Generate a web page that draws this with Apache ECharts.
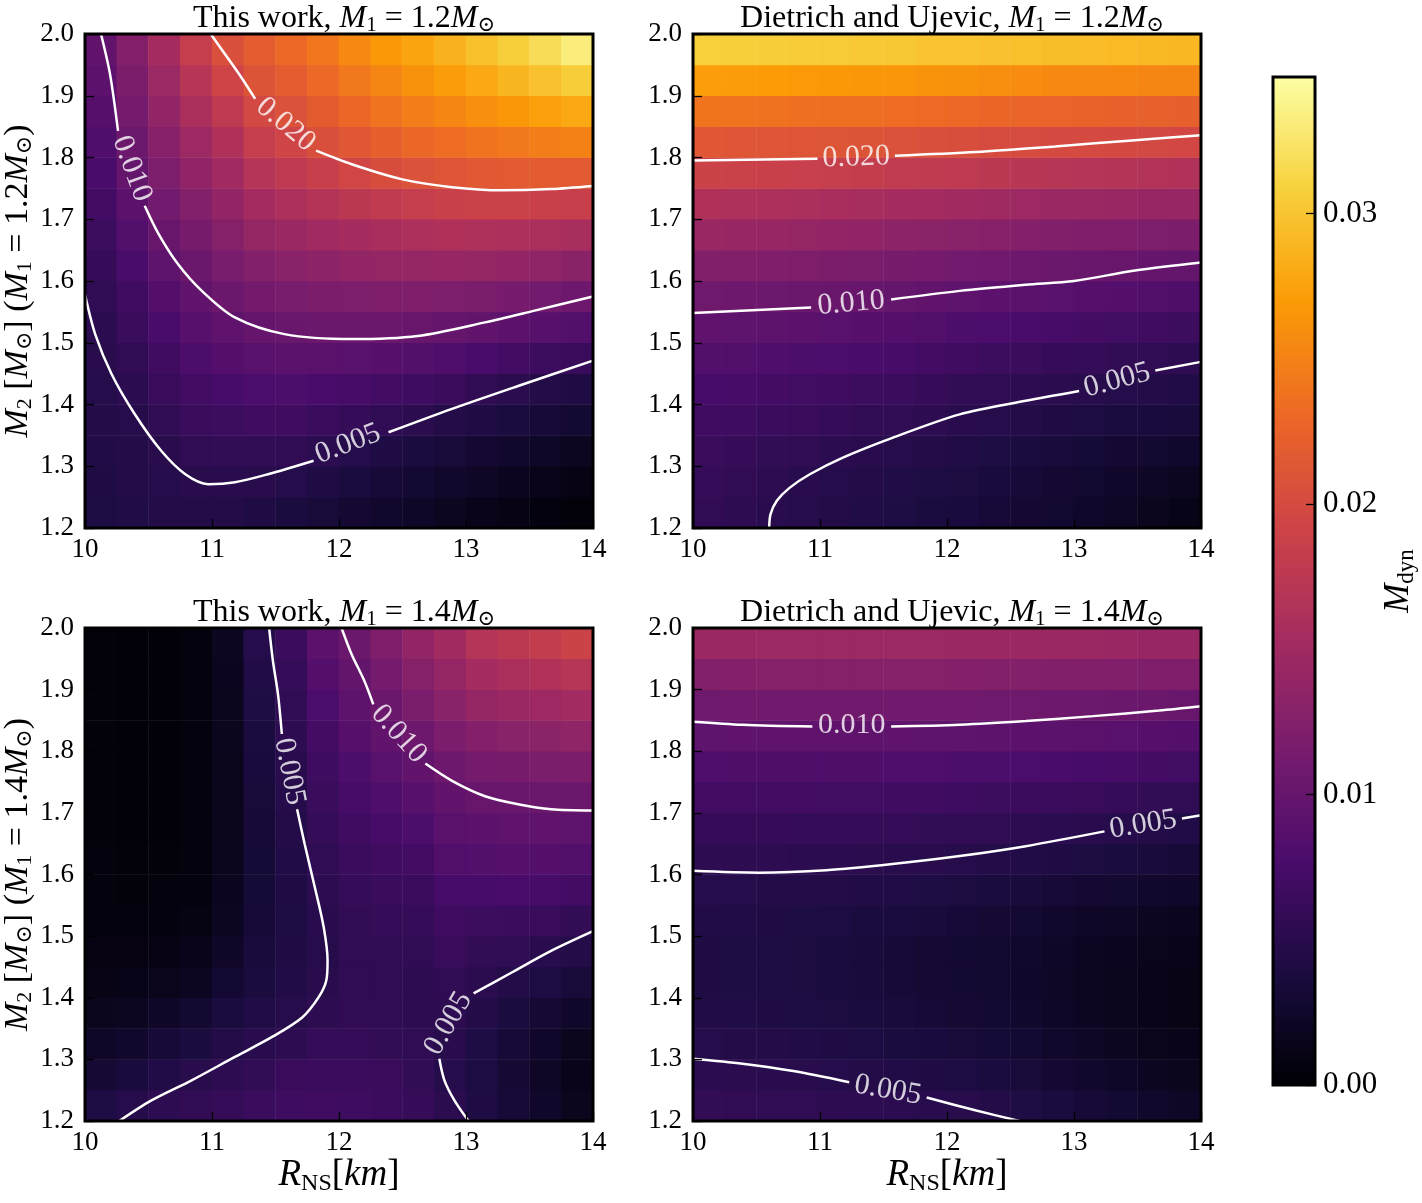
<!DOCTYPE html>
<html>
<head>
<meta charset="utf-8">
<title>Dynamical ejecta mass</title>
<script src="https://cdn.jsdelivr.net/npm/echarts@6/dist/echarts.min.js"></script>
<style>
  html, body { margin: 0; padding: 0; background: #fff; }
  #chart { width: 1422px; height: 1203px; }
</style>
</head>
<body>
<div id="chart"></div>
<script>
var FONT = "'Liberation Serif', 'DejaVu Serif', serif";

// axes
var rTicks = [10, 11, 12, 13, 14];
var m2Ticks = [1.2, 1.3, 1.4, 1.5, 1.6, 1.7, 1.8, 1.9, 2.0];
var mdynTicks = [0, 0.01, 0.02, 0.03];
var mdynMax = 0.0347;

// centres of the colour cells (R in km, M2 in Msun)
var rCells = [10.125, 10.375, 10.625, 10.875, 11.125, 11.375, 11.625, 11.875,
              12.125, 12.375, 12.625, 12.875, 13.125, 13.375, 13.625, 13.875];
var m2Cells = [1.225, 1.275, 1.325, 1.375, 1.425, 1.475, 1.525, 1.575,
               1.625, 1.675, 1.725, 1.775, 1.825, 1.875, 1.925, 1.975];

// M_dyn: one array per R cell, M2 going up
var thisWork12 = [
  [0.0040, 0.0042, 0.0044, 0.0045, 0.0047, 0.0049, 0.0052, 0.0056, 0.0061, 0.0066, 0.0071, 0.0076, 0.0081, 0.0087, 0.0092, 0.0097],
  [0.0043, 0.0045, 0.0046, 0.0048, 0.0052, 0.0057, 0.0063, 0.0069, 0.0076, 0.0084, 0.0092, 0.0099, 0.0106, 0.0113, 0.0119, 0.0126],
  [0.0045, 0.0047, 0.0049, 0.0055, 0.0062, 0.0069, 0.0077, 0.0085, 0.0094, 0.0102, 0.0111, 0.0120, 0.0128, 0.0137, 0.0146, 0.0155],
  [0.0046, 0.0049, 0.0056, 0.0063, 0.0071, 0.0079, 0.0088, 0.0096, 0.0105, 0.0115, 0.0125, 0.0136, 0.0147, 0.0159, 0.0171, 0.0183],
  [0.0045, 0.0050, 0.0058, 0.0066, 0.0075, 0.0085, 0.0095, 0.0105, 0.0116, 0.0127, 0.0138, 0.0150, 0.0163, 0.0177, 0.0192, 0.0205],
  [0.0042, 0.0049, 0.0058, 0.0068, 0.0078, 0.0089, 0.0100, 0.0112, 0.0125, 0.0139, 0.0153, 0.0168, 0.0183, 0.0197, 0.0209, 0.0219],
  [0.0038, 0.0047, 0.0057, 0.0068, 0.0079, 0.0091, 0.0103, 0.0116, 0.0130, 0.0145, 0.0161, 0.0177, 0.0193, 0.0207, 0.0219, 0.0230],
  [0.0034, 0.0042, 0.0052, 0.0064, 0.0077, 0.0090, 0.0104, 0.0119, 0.0134, 0.0150, 0.0167, 0.0185, 0.0204, 0.0218, 0.0230, 0.0241],
  [0.0030, 0.0038, 0.0047, 0.0060, 0.0074, 0.0089, 0.0104, 0.0120, 0.0137, 0.0155, 0.0174, 0.0195, 0.0213, 0.0229, 0.0243, 0.0256],
  [0.0026, 0.0033, 0.0042, 0.0056, 0.0071, 0.0087, 0.0104, 0.0121, 0.0139, 0.0158, 0.0179, 0.0202, 0.0222, 0.0239, 0.0254, 0.0268],
  [0.0022, 0.0029, 0.0038, 0.0051, 0.0067, 0.0084, 0.0102, 0.0121, 0.0140, 0.0161, 0.0183, 0.0207, 0.0229, 0.0247, 0.0263, 0.0277],
  [0.0018, 0.0025, 0.0034, 0.0046, 0.0063, 0.0081, 0.0100, 0.0120, 0.0141, 0.0163, 0.0187, 0.0211, 0.0234, 0.0254, 0.0271, 0.0286],
  [0.0014, 0.0021, 0.0030, 0.0042, 0.0057, 0.0076, 0.0096, 0.0117, 0.0139, 0.0162, 0.0188, 0.0214, 0.0239, 0.0261, 0.0280, 0.0296],
  [0.0010, 0.0017, 0.0026, 0.0037, 0.0051, 0.0071, 0.0092, 0.0114, 0.0137, 0.0161, 0.0188, 0.0216, 0.0243, 0.0267, 0.0289, 0.0307],
  [0.0007, 0.0013, 0.0022, 0.0033, 0.0046, 0.0066, 0.0088, 0.0111, 0.0135, 0.0160, 0.0187, 0.0217, 0.0247, 0.0273, 0.0297, 0.0318],
  [0.0004, 0.0010, 0.0018, 0.0029, 0.0042, 0.0062, 0.0084, 0.0107, 0.0131, 0.0157, 0.0185, 0.0216, 0.0250, 0.0279, 0.0306, 0.0332]
];
var dietrich12 = [
  [0.0057, 0.0059, 0.0063, 0.0068, 0.0075, 0.0084, 0.0095, 0.0108, 0.0124, 0.0143, 0.0163, 0.0189, 0.0213, 0.0240, 0.0272, 0.0308],
  [0.0054, 0.0057, 0.0061, 0.0067, 0.0074, 0.0083, 0.0094, 0.0107, 0.0123, 0.0142, 0.0162, 0.0188, 0.0212, 0.0239, 0.0271, 0.0307],
  [0.0050, 0.0053, 0.0058, 0.0064, 0.0072, 0.0081, 0.0093, 0.0106, 0.0122, 0.0141, 0.0161, 0.0187, 0.0212, 0.0238, 0.0270, 0.0306],
  [0.0048, 0.0050, 0.0055, 0.0062, 0.0070, 0.0080, 0.0092, 0.0105, 0.0121, 0.0140, 0.0160, 0.0186, 0.0211, 0.0237, 0.0269, 0.0305],
  [0.0045, 0.0047, 0.0052, 0.0059, 0.0068, 0.0078, 0.0089, 0.0103, 0.0119, 0.0138, 0.0158, 0.0184, 0.0210, 0.0236, 0.0268, 0.0304],
  [0.0043, 0.0045, 0.0050, 0.0057, 0.0066, 0.0076, 0.0087, 0.0101, 0.0117, 0.0136, 0.0156, 0.0182, 0.0209, 0.0235, 0.0267, 0.0303],
  [0.0041, 0.0043, 0.0048, 0.0055, 0.0064, 0.0074, 0.0085, 0.0099, 0.0115, 0.0134, 0.0155, 0.0180, 0.0207, 0.0234, 0.0266, 0.0302],
  [0.0038, 0.0041, 0.0046, 0.0053, 0.0061, 0.0071, 0.0083, 0.0097, 0.0113, 0.0132, 0.0153, 0.0178, 0.0205, 0.0232, 0.0264, 0.0300],
  [0.0036, 0.0039, 0.0044, 0.0050, 0.0058, 0.0068, 0.0080, 0.0094, 0.0111, 0.0130, 0.0151, 0.0176, 0.0203, 0.0230, 0.0262, 0.0299],
  [0.0033, 0.0036, 0.0041, 0.0048, 0.0056, 0.0066, 0.0078, 0.0092, 0.0109, 0.0128, 0.0149, 0.0174, 0.0201, 0.0228, 0.0260, 0.0297],
  [0.0030, 0.0033, 0.0038, 0.0045, 0.0053, 0.0063, 0.0076, 0.0090, 0.0107, 0.0126, 0.0147, 0.0172, 0.0200, 0.0227, 0.0258, 0.0296],
  [0.0027, 0.0030, 0.0035, 0.0042, 0.0051, 0.0061, 0.0074, 0.0089, 0.0105, 0.0124, 0.0145, 0.0170, 0.0199, 0.0226, 0.0257, 0.0295],
  [0.0024, 0.0027, 0.0032, 0.0040, 0.0049, 0.0059, 0.0072, 0.0087, 0.0103, 0.0122, 0.0144, 0.0168, 0.0199, 0.0225, 0.0256, 0.0294],
  [0.0020, 0.0024, 0.0030, 0.0038, 0.0047, 0.0057, 0.0070, 0.0085, 0.0102, 0.0121, 0.0143, 0.0167, 0.0198, 0.0224, 0.0255, 0.0292],
  [0.0016, 0.0021, 0.0028, 0.0036, 0.0045, 0.0055, 0.0068, 0.0083, 0.0100, 0.0120, 0.0142, 0.0166, 0.0197, 0.0223, 0.0254, 0.0291],
  [0.0012, 0.0018, 0.0026, 0.0035, 0.0044, 0.0053, 0.0066, 0.0082, 0.0099, 0.0119, 0.0141, 0.0164, 0.0196, 0.0222, 0.0253, 0.0290]
];
var thisWork14 = [
  [0.0041, 0.0031, 0.0023, 0.0016, 0.0011, 0.0008, 0.0006, 0.0005, 0.0005, 0.0004, 0.0004, 0.0004, 0.0004, 0.0004, 0.0004, 0.0004],
  [0.0048, 0.0036, 0.0026, 0.0018, 0.0012, 0.0008, 0.0006, 0.0004, 0.0004, 0.0003, 0.0003, 0.0003, 0.0003, 0.0003, 0.0003, 0.0003],
  [0.0053, 0.0044, 0.0033, 0.0023, 0.0015, 0.0010, 0.0007, 0.0005, 0.0004, 0.0003, 0.0003, 0.0003, 0.0003, 0.0003, 0.0003, 0.0003],
  [0.0057, 0.0049, 0.0038, 0.0028, 0.0019, 0.0013, 0.0009, 0.0007, 0.0006, 0.0005, 0.0005, 0.0005, 0.0005, 0.0005, 0.0005, 0.0005],
  [0.0060, 0.0054, 0.0046, 0.0037, 0.0029, 0.0023, 0.0019, 0.0017, 0.0016, 0.0015, 0.0015, 0.0015, 0.0016, 0.0016, 0.0017, 0.0018],
  [0.0064, 0.0058, 0.0050, 0.0043, 0.0038, 0.0035, 0.0033, 0.0032, 0.0032, 0.0033, 0.0034, 0.0036, 0.0038, 0.0041, 0.0044, 0.0047],
  [0.0067, 0.0062, 0.0054, 0.0048, 0.0044, 0.0042, 0.0041, 0.0042, 0.0044, 0.0046, 0.0048, 0.0050, 0.0053, 0.0056, 0.0060, 0.0064],
  [0.0068, 0.0065, 0.0059, 0.0053, 0.0049, 0.0048, 0.0050, 0.0053, 0.0056, 0.0059, 0.0063, 0.0067, 0.0072, 0.0078, 0.0085, 0.0092],
  [0.0067, 0.0064, 0.0060, 0.0057, 0.0055, 0.0055, 0.0057, 0.0060, 0.0064, 0.0069, 0.0074, 0.0080, 0.0087, 0.0093, 0.0098, 0.0104],
  [0.0065, 0.0062, 0.0058, 0.0056, 0.0055, 0.0056, 0.0059, 0.0063, 0.0068, 0.0074, 0.0081, 0.0089, 0.0097, 0.0105, 0.0113, 0.0121],
  [0.0061, 0.0058, 0.0055, 0.0054, 0.0054, 0.0056, 0.0060, 0.0065, 0.0071, 0.0079, 0.0088, 0.0097, 0.0107, 0.0117, 0.0127, 0.0137],
  [0.0051, 0.0047, 0.0049, 0.0053, 0.0057, 0.0062, 0.0068, 0.0075, 0.0083, 0.0090, 0.0097, 0.0107, 0.0118, 0.0129, 0.0140, 0.0151],
  [0.0042, 0.0040, 0.0041, 0.0045, 0.0051, 0.0058, 0.0066, 0.0075, 0.0084, 0.0092, 0.0101, 0.0113, 0.0126, 0.0140, 0.0154, 0.0168],
  [0.0033, 0.0031, 0.0033, 0.0038, 0.0046, 0.0055, 0.0065, 0.0076, 0.0086, 0.0095, 0.0103, 0.0115, 0.0129, 0.0144, 0.0159, 0.0175],
  [0.0024, 0.0021, 0.0024, 0.0031, 0.0040, 0.0050, 0.0062, 0.0074, 0.0085, 0.0095, 0.0104, 0.0117, 0.0132, 0.0148, 0.0164, 0.0181],
  [0.0016, 0.0013, 0.0016, 0.0024, 0.0034, 0.0045, 0.0058, 0.0071, 0.0083, 0.0094, 0.0105, 0.0119, 0.0135, 0.0152, 0.0170, 0.0189]
];
var dietrich14 = [
  [0.0058, 0.0052, 0.0047, 0.0044, 0.0042, 0.0042, 0.0044, 0.0047, 0.0053, 0.0061, 0.0071, 0.0081, 0.0094, 0.0108, 0.0125, 0.0144],
  [0.0057, 0.0051, 0.0046, 0.0043, 0.0041, 0.0041, 0.0043, 0.0047, 0.0053, 0.0061, 0.0071, 0.0082, 0.0095, 0.0109, 0.0126, 0.0145],
  [0.0056, 0.0050, 0.0045, 0.0042, 0.0040, 0.0040, 0.0042, 0.0046, 0.0053, 0.0061, 0.0071, 0.0082, 0.0095, 0.0110, 0.0127, 0.0146],
  [0.0055, 0.0049, 0.0044, 0.0041, 0.0039, 0.0039, 0.0041, 0.0046, 0.0052, 0.0060, 0.0071, 0.0082, 0.0095, 0.0110, 0.0127, 0.0146],
  [0.0054, 0.0047, 0.0042, 0.0039, 0.0037, 0.0037, 0.0040, 0.0045, 0.0052, 0.0060, 0.0070, 0.0082, 0.0095, 0.0110, 0.0127, 0.0146],
  [0.0053, 0.0046, 0.0040, 0.0037, 0.0035, 0.0035, 0.0038, 0.0044, 0.0051, 0.0060, 0.0070, 0.0082, 0.0095, 0.0110, 0.0127, 0.0146],
  [0.0052, 0.0044, 0.0038, 0.0035, 0.0033, 0.0033, 0.0037, 0.0043, 0.0050, 0.0059, 0.0069, 0.0081, 0.0095, 0.0110, 0.0127, 0.0146],
  [0.0050, 0.0042, 0.0036, 0.0033, 0.0031, 0.0031, 0.0035, 0.0041, 0.0049, 0.0058, 0.0068, 0.0081, 0.0094, 0.0110, 0.0127, 0.0146],
  [0.0049, 0.0040, 0.0034, 0.0031, 0.0029, 0.0029, 0.0033, 0.0039, 0.0048, 0.0057, 0.0067, 0.0080, 0.0094, 0.0109, 0.0126, 0.0145],
  [0.0046, 0.0038, 0.0032, 0.0029, 0.0027, 0.0027, 0.0031, 0.0037, 0.0046, 0.0055, 0.0066, 0.0079, 0.0093, 0.0108, 0.0125, 0.0145],
  [0.0041, 0.0034, 0.0029, 0.0026, 0.0024, 0.0025, 0.0029, 0.0035, 0.0044, 0.0054, 0.0065, 0.0078, 0.0092, 0.0108, 0.0125, 0.0145],
  [0.0037, 0.0030, 0.0025, 0.0022, 0.0021, 0.0022, 0.0026, 0.0033, 0.0042, 0.0052, 0.0064, 0.0077, 0.0091, 0.0107, 0.0124, 0.0144],
  [0.0033, 0.0026, 0.0021, 0.0019, 0.0018, 0.0019, 0.0023, 0.0030, 0.0039, 0.0050, 0.0062, 0.0075, 0.0090, 0.0106, 0.0124, 0.0144],
  [0.0029, 0.0022, 0.0018, 0.0016, 0.0016, 0.0017, 0.0021, 0.0028, 0.0037, 0.0048, 0.0060, 0.0074, 0.0089, 0.0105, 0.0123, 0.0143],
  [0.0025, 0.0019, 0.0015, 0.0013, 0.0013, 0.0015, 0.0019, 0.0026, 0.0035, 0.0046, 0.0058, 0.0072, 0.0087, 0.0104, 0.0122, 0.0142],
  [0.0021, 0.0016, 0.0013, 0.0011, 0.0011, 0.0013, 0.0017, 0.0024, 0.0033, 0.0044, 0.0056, 0.0070, 0.0085, 0.0102, 0.0121, 0.0141]
];

// contour lines [R, M2], split where the inline label sits
var tw12_005 = [
  [[10.0, 1.578], [10.08, 1.514], [10.21, 1.449], [10.39, 1.385], [10.60, 1.325], [10.79, 1.287], [10.97, 1.271], [11.18, 1.274], [11.44, 1.287], [11.80, 1.309]],
  [[12.39, 1.355], [12.89, 1.393], [13.41, 1.430], [14.0, 1.471]]
];
var tw12_010 = [
  [[10.126, 2.0], [10.197, 1.935], [10.26, 1.843]],
  [[10.47, 1.722], [10.58, 1.676], [10.73, 1.628], [10.92, 1.584], [11.18, 1.541], [11.57, 1.514], [12.10, 1.506], [12.62, 1.511], [13.15, 1.533], [13.54, 1.552], [14.0, 1.575]]
];
var tw12_020 = [
  [[10.99, 2.0], [11.10, 1.968], [11.23, 1.930], [11.34, 1.895]],
  [[11.82, 1.811], [12.10, 1.789], [12.49, 1.765], [12.89, 1.752], [13.28, 1.747], [13.67, 1.749], [14.0, 1.754]]
];
var du12_005 = [
  [[10.60, 1.2], [10.61, 1.222], [10.66, 1.244], [10.76, 1.265], [10.92, 1.287], [11.18, 1.314], [11.57, 1.346], [12.10, 1.384], [12.62, 1.406], [13.04, 1.422]],
  [[13.64, 1.455], [14.0, 1.469]]
];
var du12_010 = [
  [[10.0, 1.548], [10.93, 1.557]],
  [[11.56, 1.570], [12.10, 1.584], [12.62, 1.594], [13.0, 1.600], [13.48, 1.617], [14.0, 1.630]]
];
var du12_020 = [
  [[10.0, 1.795], [10.98, 1.798]],
  [[11.59, 1.803], [12.23, 1.809], [12.85, 1.818], [13.48, 1.828], [14.0, 1.836]]
];
var tw14_005a = [
  [[11.45, 2.0], [11.48, 1.946], [11.52, 1.892], [11.55, 1.828]],
  [[11.67, 1.706], [11.73, 1.649], [11.81, 1.579], [11.88, 1.514], [11.91, 1.460], [11.90, 1.428], [11.84, 1.401], [11.71, 1.368], [11.47, 1.336], [11.18, 1.304], [10.84, 1.266], [10.52, 1.233], [10.27, 1.2]]
];
var tw14_005b = [
  [[14.0, 1.508], [13.67, 1.476], [13.36, 1.441], [13.06, 1.407]],
  [[12.79, 1.301], [12.83, 1.266], [12.91, 1.233], [13.02, 1.2]]
];
var tw14_010 = [
  [[12.02, 2.0], [12.10, 1.957], [12.20, 1.914], [12.27, 1.876]],
  [[12.68, 1.780], [12.89, 1.752], [13.15, 1.727], [13.41, 1.714], [13.67, 1.706], [14.0, 1.704]]
];
var du14_010 = [
  [[10.0, 1.848], [10.39, 1.843], [10.94, 1.840]],
  [[11.56, 1.840], [12.10, 1.843], [12.62, 1.849], [13.15, 1.857], [13.67, 1.866], [14.0, 1.873]]
];
var du14_005a = [
  [[10.0, 1.606], [10.52, 1.603], [11.05, 1.607], [11.57, 1.617], [12.10, 1.630], [12.62, 1.646], [13.24, 1.670]],
  [[13.85, 1.691], [14.0, 1.696]]
];
var du14_005b = [
  [[10.0, 1.301], [10.39, 1.293], [10.79, 1.281], [11.23, 1.263]],
  [[11.84, 1.238], [12.23, 1.217], [12.57, 1.2]]
];

// inline labels: text, R, M2, angle along the line
var tw12Labels = [['0.005', 12.07, 1.336, 21], ['0.010', 10.37, 1.782, -70], ['0.020', 11.58, 1.853, -40]];
var du12Labels = [['0.005', 13.34, 1.439, 15], ['0.010', 11.245, 1.564, 5], ['0.020', 11.285, 1.800, 2]];
var tw14Labels = [['0.005', 11.61, 1.767, -79], ['0.005', 12.86, 1.358, 60], ['0.010', 12.47, 1.828, -48]];
var du14Labels = [['0.010', 11.25, 1.842, 0], ['0.005', 13.545, 1.681, 9], ['0.005', 11.535, 1.250, -10]];

var inferno = ['#000004', '#1b0c41', '#4a0c6b', '#781c6d', '#a52c60',
               '#cf4446', '#ed6925', '#fb9b06', '#f7d13d', '#fcffa4'];

function rich(size) {
  return {
    r: { fontFamily: FONT, fontSize: size, fontWeight: 'normal', color: '#000' },
    i: { fontFamily: FONT, fontSize: size, fontWeight: 'normal', fontStyle: 'italic', color: '#000' },
    s: { fontFamily: FONT, fontSize: Math.round(size * 0.66), fontWeight: 'normal', color: '#000',
         padding: [Math.round(size * 0.45), 0, 0, 0] }
  };
}

var panels = [
  { box: { left: 85, top: 34, width: 508, height: 494 },
    title: '{r|This work, }{i|M}{s|1}{r| = 1.2}{i|M}{s|⊙}',
    yName: '{i|M}{s|2}{r| [}{i|M}{s|⊙}{r|] (}{i|M}{s|1}{r| = 1.2}{i|M}{s|⊙}{r|)}', xName: '',
    field: thisWork12, lines: [tw12_005, tw12_010, tw12_020], labels: tw12Labels },
  { box: { left: 693, top: 34, width: 508, height: 494 },
    title: '{r|Dietrich and Ujevic, }{i|M}{s|1}{r| = 1.2}{i|M}{s|⊙}',
    yName: '', xName: '',
    field: dietrich12, lines: [du12_005, du12_010, du12_020], labels: du12Labels },
  { box: { left: 85, top: 628, width: 508, height: 493 },
    title: '{r|This work, }{i|M}{s|1}{r| = 1.4}{i|M}{s|⊙}',
    yName: '{i|M}{s|2}{r| [}{i|M}{s|⊙}{r|] (}{i|M}{s|1}{r| = 1.4}{i|M}{s|⊙}{r|)}',
    xName: '{i|R}{s|NS}{r|[}{i|km}{r|]}',
    field: thisWork14, lines: [tw14_005a, tw14_005b, tw14_010], labels: tw14Labels },
  { box: { left: 693, top: 628, width: 508, height: 493 },
    title: '{r|Dietrich and Ujevic, }{i|M}{s|1}{r| = 1.4}{i|M}{s|⊙}',
    yName: '', xName: '{i|R}{s|NS}{r|[}{i|km}{r|]}',
    field: dietrich14, lines: [du14_010, du14_005a, du14_005b], labels: du14Labels }
];

var grids = [], xAxes = [], yAxes = [], titles = [], series = [];

function ticks() {
  return { show: true, inside: true, length: 9, lineStyle: { color: '#000', width: 1.3 } };
}
var noLine = { show: false, onZero: false };

panels.forEach(function (p, k) {
  grids.push(Object.assign({ show: true, borderColor: '#000', borderWidth: 3,
    backgroundColor: 'transparent', zlevel: 1, outerBoundsMode: 'none' }, p.box));
  titles.push({ text: p.title, left: p.box.left + p.box.width / 2, top: p.box.top - 38,
    textAlign: 'center', textStyle: { fontWeight: 'normal', rich: rich(32) } });

  xAxes.push({ type: 'value', gridIndex: k, position: 'bottom', zlevel: 1,
    min: rTicks[0], max: rTicks[rTicks.length - 1], interval: rTicks[1] - rTicks[0],
    axisLine: noLine, axisTick: ticks(), splitLine: { show: false },
    axisLabel: { color: '#000', fontFamily: FONT, fontSize: 27, margin: 8 },
    name: p.xName, nameLocation: 'middle', nameGap: 32, nameTextStyle: { rich: rich(37) } });
  xAxes.push({ type: 'category', gridIndex: k, position: 'top', show: false,
    axisLine: noLine, data: rCells.map(String) });
  yAxes.push({ type: 'value', gridIndex: k, position: 'left', zlevel: 1,
    min: m2Ticks[0], max: m2Ticks[m2Ticks.length - 1], interval: 0.1,
    axisLine: noLine, axisTick: ticks(), splitLine: { show: false },
    axisLabel: { color: '#000', fontFamily: FONT, fontSize: 27, margin: 11,
      formatter: function (v) { return v.toFixed(1); } },
    name: p.yName, nameLocation: 'middle', nameRotate: 90, nameGap: 46,
    nameTextStyle: { rich: rich(34) } });
  yAxes.push({ type: 'category', gridIndex: k, position: 'right', show: false,
    axisLine: noLine, data: m2Cells.map(String) });
});

// colour maps first, so the visual map can address them by index
panels.forEach(function (p, k) {
  var cells = [];
  p.field.forEach(function (col, i) {
    col.forEach(function (v, j) { cells.push([i, j, v]); });
  });
  series.push({ type: 'heatmap', xAxisIndex: 2 * k + 1, yAxisIndex: 2 * k + 1,
    data: cells, progressive: 0, emphasis: { disabled: true }, silent: true });
});

panels.forEach(function (p, k) {
  p.lines.forEach(function (level) {
    level.forEach(function (seg) {
      series.push({ type: 'line', xAxisIndex: 2 * k, yAxisIndex: 2 * k, data: seg,
        symbol: 'none', smooth: 0.3, silent: true, z: 3,
        lineStyle: { color: '#fff', width: 2.5 } });
    });
  });
  series.push({ type: 'scatter', xAxisIndex: 2 * k, yAxisIndex: 2 * k, symbolSize: 1,
    silent: true, z: 4, itemStyle: { color: 'rgba(0,0,0,0)' },
    data: p.labels.map(function (l) {
      return { name: l[0], value: [l[1], l[2]], label: { rotate: l[3] } };
    }),
    label: { show: true, position: 'inside', formatter: '{b}', color: '#fff',
      fontFamily: FONT, fontSize: 30 } });
});

// colour bar frame + ticks (drawn on the upper layer, above the visual map bar)
grids.push({ left: 1273, top: 77, width: 42, height: 1008, show: true, borderColor: '#000',
  borderWidth: 3, backgroundColor: 'transparent', zlevel: 1, outerBoundsMode: 'none' });
xAxes.push({ type: 'value', gridIndex: 4, show: false, min: 0, max: 1, axisLine: noLine });
yAxes.push({ type: 'value', gridIndex: 4, position: 'right', min: 0, max: mdynMax, zlevel: 1,
  interval: mdynTicks[1] - mdynTicks[0],
  axisLine: noLine, axisTick: ticks(), splitLine: { show: false },
  axisLabel: { color: '#000', fontFamily: FONT, fontSize: 31, margin: 8, showMaxLabel: false,
    formatter: function (v) { return v.toFixed(2); } },
  name: '{i|M}{s|dyn}', nameLocation: 'middle', nameRotate: 90, nameGap: 64,
  nameTextStyle: { rich: rich(35) } });

var chart = echarts.init(document.getElementById('chart'));
chart.setOption({
  animation: false,
  backgroundColor: '#fff',
  title: titles,
  grid: grids,
  xAxis: xAxes,
  yAxis: yAxes,
  visualMap: {
    type: 'continuous', min: 0, max: mdynMax, seriesIndex: [0, 1, 2, 3],
    calculable: false, orient: 'vertical', left: 1273, top: 77, padding: 0,
    itemWidth: 42, itemHeight: 1008, hoverLink: false,
    inRange: { color: inferno }
  },
  series: series
});
</script>
</body>
</html>
